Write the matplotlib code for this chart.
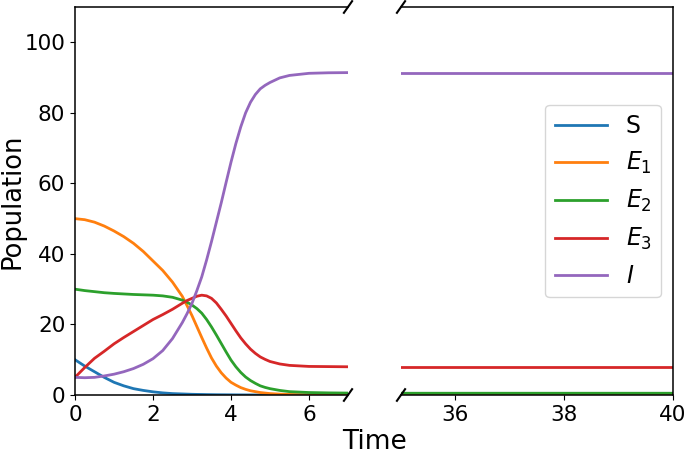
import matplotlib
matplotlib.use("Agg")
import matplotlib.pyplot as plt

# time points (left panel 0-7, right panel 35-40)
t = [0, 0.25, 0.5, 0.75, 1, 1.25, 1.5, 1.75, 2, 2.25, 2.5, 2.75, 2.875, 3,
     3.125, 3.25, 3.375, 3.5, 3.625, 3.75, 3.875, 4, 4.125, 4.25, 4.375, 4.5,
     4.625, 4.75, 4.875, 5, 5.25, 5.5, 6, 6.5, 7, 35, 40]

S = [10, 8.2, 6.6, 5.0, 3.6, 2.6, 1.8, 1.3, 0.9, 0.6, 0.4, 0.3, 0.25, 0.2,
     0.17, 0.15, 0.12, 0.1, 0.08, 0.07, 0.06, 0.05, 0.04, 0.03, 0.025, 0.02,
     0.015, 0.01, 0.005, 0, 0, 0, 0, 0, 0, 0, 0]
E1 = [50, 49.7, 49, 47.9, 46.5, 44.9, 43, 40.7, 38, 35.3, 32, 28, 25.3, 22.5,
      19.4, 16.3, 13.3, 10.5, 8.2, 6.3, 4.8, 3.6, 2.8, 2.1, 1.6, 1.2,
      0.95, 0.7, 0.55, 0.4, 0.25, 0.15, 0.05, 0.02, 0, 0, 0]
E2 = [30, 29.6, 29.3, 29.0, 28.8, 28.65, 28.5, 28.4, 28.3, 28.1, 27.7, 26.9,
      26.3, 25.5, 24.5, 23.2, 21.4, 19.3, 17, 14.6, 12.2, 9.9, 8, 6.4, 5.1,
      4.1, 3.3, 2.6, 2.15, 1.8, 1.3, 0.95, 0.7, 0.6, 0.55, 0.5, 0.5]
E3 = [5, 7.8, 10.4, 12.4, 14.5, 16.3, 18, 19.7, 21.4, 22.8, 24.3, 26, 26.8,
      27.4, 28, 28.3, 28.1, 27.4, 26.1, 24.3, 22.4, 20.3, 18.2, 16.2, 14.5,
      13, 11.8, 10.8, 10.1, 9.5, 8.8, 8.4, 8.1, 8.05, 8, 8, 8]
I = [5, 4.9, 5.0, 5.4, 5.9, 6.6, 7.5, 8.7, 10.3, 12.6, 16, 20.5, 23.1, 26,
     29.6, 33.5, 38.3, 43.5, 49, 54.5, 60.3, 66, 71.3, 76, 80, 83,
     85.2, 86.8, 87.8, 88.6, 89.9, 90.6, 91.2, 91.35, 91.4, 91.4, 91.4]

series = [S, E1, E2, E3, I]
labels = ['S', '$E_1$', '$E_2$', '$E_3$', '$I$']

plt.rcParams['lines.linewidth'] = 2
plt.rcParams['axes.linewidth'] = 1.1

fig = plt.figure(figsize=(6.85, 4.54), dpi=100)
ax1 = fig.add_axes([75 / 685, 59 / 454, 273 / 685, 388 / 454])
ax2 = fig.add_axes([401 / 685, 59 / 454, 272 / 685, 388 / 454])

for ax in (ax1, ax2):
    for y, lab in zip(series, labels):
        ax.plot(t, y, label=lab)
    ax.set_ylim(0, 110)
    ax.tick_params(labelsize=15.5)

ax1.set_xlim(0, 7)
ax1.set_xticks([0, 2, 4, 6])
ax1.set_yticks([0, 20, 40, 60, 80, 100])
ax2.set_xlim(35, 40)
ax2.set_xticks([36, 38, 40])

ax1.spines['right'].set_visible(False)
ax2.spines['left'].set_visible(False)
ax2.tick_params(left=False, labelleft=False)

# diagonal break marks
d = .015
kw = dict(transform=ax1.transAxes, color='k', clip_on=False, lw=1.5)
ax1.plot((1 - d, 1 + d), (-d, d), **kw)
ax1.plot((1 - d, 1 + d), (1 - d, 1 + d), **kw)
kw.update(transform=ax2.transAxes)
ax2.plot((-d, d), (-d, d), **kw)
ax2.plot((-d, d), (1 - d, 1 + d), **kw)

fig.text(13 / 685, 1 - 201 / 454, 'Population', rotation=90,
         ha='center', va='center', fontsize=18.5)
fig.text(374.5 / 685, 12 / 454, 'Time', ha='center', va='center', fontsize=19)

ax2.legend(loc='center right', fontsize=17, handlelength=2.2)

fig.savefig('out.png', dpi=100)
